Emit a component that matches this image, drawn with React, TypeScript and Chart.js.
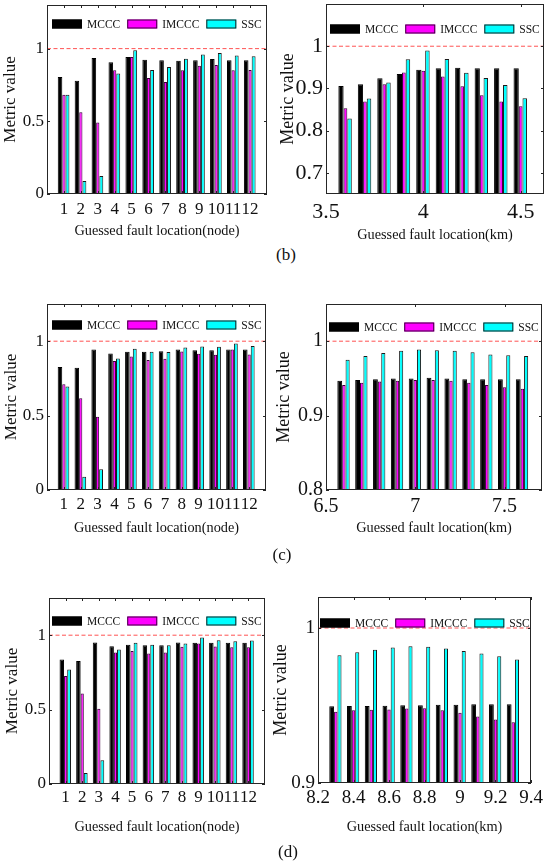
import React, { useEffect, useRef } from 'react';
import { Chart, registerables } from 'chart.js';

Chart.register(...registerables);

// ---------------- data ----------------
const seriesNames = ['MCCC', 'IMCCC', 'SSC'];
const referenceValue = 1;

const nodeLocations = [1, 2, 3, 4, 5, 6, 7, 8, 9, 10, 11, 12];
const nodeTicks = [1, 2, 3, 4, 5, 6, 7, 8, 9, 10, 11, 12];
const nodeYTicks = [0, 0.5, 1];

// (b)
const bNodeMCCC = [0.805, 0.779, 0.936, 0.906, 0.943, 0.924, 0.92, 0.917, 0.92, 0.929, 0.92, 0.92];
const bNodeIMCCC = [0.683, 0.563, 0.492, 0.851, 0.943, 0.798, 0.77, 0.851, 0.883, 0.887, 0.851, 0.853];
const bNodeSSC = [0.683, 0.09, 0.124, 0.828, 0.989, 0.853, 0.874, 0.931, 0.959, 0.97, 0.952, 0.947];

const bKm = [3.6, 3.7, 3.8, 3.9, 4.0, 4.1, 4.2, 4.3, 4.4, 4.5];
const bKmTicks = [3.5, 4, 4.5];
const bKmYTicks = [0.7, 0.8, 0.9, 1];
const bKmMCCC = [0.906, 0.91, 0.924, 0.934, 0.944, 0.948, 0.949, 0.948, 0.948, 0.948];
const bKmIMCCC = [0.853, 0.869, 0.91, 0.938, 0.942, 0.928, 0.905, 0.884, 0.869, 0.858];
const bKmSSC = [0.829, 0.876, 0.914, 0.969, 0.99, 0.97, 0.937, 0.925, 0.908, 0.877];

// (c)
const cNodeMCCC = [0.827, 0.822, 0.944, 0.918, 0.929, 0.929, 0.933, 0.944, 0.94, 0.94, 0.944, 0.944];
const cNodeIMCCC = [0.711, 0.616, 0.493, 0.867, 0.898, 0.873, 0.882, 0.931, 0.916, 0.909, 0.944, 0.911];
const cNodeSSC = [0.696, 0.089, 0.14, 0.884, 0.949, 0.929, 0.927, 0.958, 0.964, 0.962, 0.984, 0.967];

const cKm = [6.6, 6.7, 6.8, 6.9, 7.0, 7.1, 7.2, 7.3, 7.4, 7.5, 7.6];
const cKmTicks = [6.5, 7, 7.5];
const cKmYTicks = [0.8, 0.9, 1];
const cKmMCCC = [0.947, 0.948, 0.949, 0.95, 0.95, 0.951, 0.95, 0.949, 0.949, 0.949, 0.949];
const cKmIMCCC = [0.941, 0.944, 0.946, 0.947, 0.948, 0.948, 0.947, 0.944, 0.941, 0.938, 0.936];
const cKmSSC = [0.975, 0.98, 0.984, 0.987, 0.989, 0.988, 0.987, 0.985, 0.982, 0.981, 0.98];

// (d)
const dNodeMCCC = [0.837, 0.826, 0.951, 0.926, 0.935, 0.933, 0.933, 0.951, 0.949, 0.949, 0.949, 0.949];
const dNodeIMCCC = [0.725, 0.608, 0.506, 0.884, 0.893, 0.877, 0.884, 0.922, 0.944, 0.924, 0.919, 0.919];
const dNodeSSC = [0.77, 0.074, 0.159, 0.904, 0.949, 0.935, 0.933, 0.944, 0.984, 0.966, 0.96, 0.964];

const dKm = [8.3, 8.4, 8.5, 8.6, 8.7, 8.8, 8.9, 9.0, 9.1, 9.2, 9.3];
const dKmTicks = [8.2, 8.4, 8.6, 8.8, 9, 9.2, 9.4];
const dKmYTicks = [0.9, 1];
const dKmMCCC = [0.9495, 0.9497, 0.9497, 0.9499, 0.9501, 0.9501, 0.9505, 0.9505, 0.9508, 0.9508, 0.9508];
const dKmIMCCC = [0.946, 0.9469, 0.9473, 0.9475, 0.948, 0.9482, 0.9469, 0.9453, 0.9429, 0.941, 0.9392];
const dKmSSC = [0.9824, 0.9844, 0.9859, 0.9874, 0.9883, 0.9879, 0.9868, 0.9852, 0.9835, 0.9818, 0.9796];

const xTitleNode = 'Guessed fault location(node)';
const xTitleKm = 'Guessed fault location(km)';
const yTitle = 'Metric value';

// ---------------- styles ----------------
const FONT = "'Liberation Serif', 'Times New Roman', serif";
const TEXT = '#111111';
const AXIS = '#262626';
const seriesFill = ['#000000', '#ff00ff', '#00ffff'];
const seriesBorder = ['#000000', '#3a003a', '#1a1a1a'];
// per-series group geometry (fractions of the category width)
const seriesCatPct = [0.69, 0.57, 0.63];
const seriesBarPct = [1.1739, 1.0, 1.0952];

const framePlugin: any = {
  id: 'matlabFrame',
  afterDatasetsDraw(chart: any, _args: any, opts: any) {
    const { ctx, chartArea: a, scales } = chart;
    const len = 3;
    ctx.save();
    ctx.strokeStyle = opts.color || AXIS;
    ctx.lineWidth = 1;
    ctx.beginPath();
    for (const t of scales.x.ticks) {
      const px = Math.round(scales.x.getPixelForValue(t.value)) + 0.5;
      ctx.moveTo(px, a.bottom);
      ctx.lineTo(px, a.bottom - len);
      ctx.moveTo(px, a.top);
      ctx.lineTo(px, a.top + len);
    }
    for (const t of scales.y.ticks) {
      const py = Math.round(scales.y.getPixelForValue(t.value)) + 0.5;
      ctx.moveTo(a.left, py);
      ctx.lineTo(a.left + len, py);
      ctx.moveTo(a.right, py);
      ctx.lineTo(a.right - len, py);
    }
    ctx.stroke();
    ctx.strokeRect(
      Math.round(a.left) + 0.5,
      Math.round(a.top) + 0.5,
      Math.round(a.right - a.left) - 1,
      Math.round(a.bottom - a.top) - 1
    );
    ctx.restore();
  },
};

const legendPlugin: any = {
  id: 'matlabLegend',
  afterDatasetsDraw(chart: any, _args: any, opts: any) {
    const { ctx, chartArea: a } = chart;
    const items = chart.data.datasets.filter((d: any) => d.inLegend !== false);
    const boxW = 30;
    const boxH = 9;
    const gapText = 5;
    const gapItem = 7;
    ctx.save();
    ctx.font = `${opts.fontSize}px ${FONT}`;
    ctx.textBaseline = 'middle';
    ctx.textAlign = 'left';
    const widths = items.map((d: any) => ctx.measureText(d.label).width);
    const total =
      widths.reduce((s: number, w: number) => s + boxW + gapText + w, 0) + gapItem * (items.length - 1);
    let x = Math.round((a.left + a.right) / 2 - total / 2);
    const y = Math.round(a.top + opts.offsetY);
    items.forEach((d: any, i: number) => {
      ctx.fillStyle = d.backgroundColor;
      ctx.fillRect(x, y - boxH / 2, boxW, boxH);
      ctx.strokeStyle = d.borderColor;
      ctx.lineWidth = 1;
      ctx.strokeRect(x + 0.5, y - boxH / 2 + 0.5, boxW - 1, boxH - 1);
      x += boxW + gapText;
      ctx.fillStyle = TEXT;
      ctx.fillText(d.label, x, y + 0.5);
      x += widths[i] + gapItem;
    });
    ctx.restore();
  },
};

type PanelCfg = {
  x: number[];
  s1: number[];
  s2: number[];
  s3: number[];
  xMin: number;
  xMax: number;
  xTicks: number[];
  yMin: number;
  yMax: number;
  yTicks: number[];
  xTitle: string;
  // geometry of the axes box on the page
  L: number;
  T: number;
  R: number;
  B: number;
  yTitleDist: number;
  xTitleDist: number;
  xTickDist: number;
  tickFont: number;
  yTitleFont: number;
  legendY: number;
  rightPad: number;
};

const X_TITLE_FONT = 14.3;
const TOP_PAD = 4;

function Panel({ cfg }: { cfg: PanelCfg }) {
  const ref = useRef<HTMLCanvasElement | null>(null);
  const yAxisW = Math.round(cfg.yTitleDist + (cfg.yTitleFont * 1.2) / 2);
  const xAxisH = Math.round(cfg.xTitleDist + (X_TITLE_FONT * 1.2) / 2);
  const left = cfg.L - yAxisW;
  const top = cfg.T - TOP_PAD;
  const width = yAxisW + (cfg.R - cfg.L) + cfg.rightPad;
  const height = TOP_PAD + (cfg.B - cfg.T) + xAxisH;

  useEffect(() => {
    if (!ref.current) return;
    const series = [cfg.s1, cfg.s2, cfg.s3];
    const datasets: any[] = series.map((s, i) => ({
      label: seriesNames[i],
      data: s,
      backgroundColor: seriesFill[i],
      borderColor: seriesBorder[i],
      borderWidth: 1,
      categoryPercentage: seriesCatPct[i],
      barPercentage: seriesBarPct[i],
    }));
    datasets.push({
      type: 'line',
      label: 'reference',
      inLegend: false,
      data: [
        { x: cfg.xMin, y: referenceValue },
        { x: cfg.xMax, y: referenceValue },
      ],
      borderColor: '#ff5252',
      borderWidth: 1,
      borderDash: [4, 2.5],
      pointRadius: 0,
      fill: false,
      order: -1,
    });
    const chart = new Chart(ref.current, {
      type: 'bar',
      data: { labels: cfg.x, datasets },
      plugins: [framePlugin, legendPlugin],
      options: {
        responsive: false,
        maintainAspectRatio: false,
        animation: false,
        events: [],
        layout: { padding: { top: TOP_PAD, right: cfg.rightPad, left: 0, bottom: 0 } },
        plugins: {
          legend: { display: false },
          tooltip: { enabled: false },
          title: { display: false },
          matlabFrame: { color: AXIS },
          matlabLegend: { fontSize: 11.5, offsetY: cfg.legendY },
        } as any,
        scales: {
          x: {
            type: 'linear',
            min: cfg.xMin,
            max: cfg.xMax,
            offset: false,
            grid: { display: false, drawTicks: false },
            border: { display: false },
            afterBuildTicks: (s: any) => {
              s.ticks = cfg.xTicks.map((v) => ({ value: v }));
            },
            afterFit: (s: any) => {
              s.height = xAxisH;
              s.paddingLeft = 0;
              s.paddingRight = 0;
            },
            ticks: {
              autoSkip: false,
              maxRotation: 0,
              minRotation: 0,
              padding: cfg.xTickDist - cfg.tickFont * 0.6,
              color: TEXT,
              font: { family: FONT, size: cfg.tickFont },
              callback: (v: any) => String(v),
            },
            title: {
              display: true,
              text: cfg.xTitle,
              color: TEXT,
              font: { family: FONT, size: X_TITLE_FONT },
              padding: 0,
            },
          },
          y: {
            type: 'linear',
            min: cfg.yMin,
            max: cfg.yMax,
            grid: { display: false, drawTicks: false },
            border: { display: false },
            afterBuildTicks: (s: any) => {
              s.ticks = cfg.yTicks.map((v) => ({ value: v }));
            },
            afterFit: (s: any) => {
              s.width = yAxisW;
              s.paddingTop = 0;
              s.paddingBottom = 0;
            },
            ticks: {
              autoSkip: false,
              padding: 3,
              color: TEXT,
              font: { family: FONT, size: cfg.tickFont },
              callback: (v: any) => String(v),
            },
            title: {
              display: true,
              text: yTitle,
              color: TEXT,
              font: { family: FONT, size: cfg.yTitleFont },
              padding: 0,
            },
          },
        } as any,
      },
    } as any);
    return () => chart.destroy();
  }, []);

  return (
    <canvas
      ref={ref}
      width={width}
      height={height}
      style={{ position: 'absolute', left, top, width, height }}
    />
  );
}

const panels: PanelCfg[] = [
  {
    x: nodeLocations, s1: bNodeMCCC, s2: bNodeIMCCC, s3: bNodeSSC,
    xMin: 0, xMax: 13, xTicks: nodeTicks, yMin: 0, yMax: 1.3, yTicks: nodeYTicks, xTitle: xTitleNode,
    L: 47, T: 5, R: 267, B: 194, yTitleDist: 37, xTitleDist: 37, xTickDist: 16, tickFont: 17, yTitleFont: 17,
    legendY: 18.7, rightPad: 8,
  },
  {
    x: bKm, s1: bKmMCCC, s2: bKmIMCCC, s3: bKmSSC,
    xMin: 3.5, xMax: 4.62, xTicks: bKmTicks, yMin: 0.65, yMax: 1.1, yTicks: bKmYTicks, xTitle: xTitleKm,
    L: 326, T: 4, R: 544, B: 194, yTitleDist: 38.5, xTitleDist: 41, xTickDist: 18, tickFont: 22, yTitleFont: 18,
    legendY: 24.7, rightPad: 6,
  },
  {
    x: nodeLocations, s1: cNodeMCCC, s2: cNodeIMCCC, s3: cNodeSSC,
    xMin: 0, xMax: 13, xTicks: nodeTicks, yMin: 0, yMax: 1.25, yTicks: nodeYTicks, xTitle: xTitleNode,
    L: 47, T: 304, R: 266, B: 490, yTitleDist: 36, xTitleDist: 38, xTickDist: 15, tickFont: 17, yTitleFont: 17,
    legendY: 21, rightPad: 8,
  },
  {
    x: cKm, s1: cKmMCCC, s2: cKmIMCCC, s3: cKmSSC,
    xMin: 6.5, xMax: 7.71, xTicks: cKmTicks, yMin: 0.8, yMax: 1.05, yTicks: cKmYTicks, xTitle: xTitleKm,
    L: 326, T: 304, R: 542, B: 490, yTitleDist: 42, xTitleDist: 38, xTickDist: 17, tickFont: 20, yTitleFont: 18,
    legendY: 22.7, rightPad: 8,
  },
  {
    x: nodeLocations, s1: dNodeMCCC, s2: dNodeIMCCC, s3: dNodeSSC,
    xMin: 0, xMax: 13, xTicks: nodeTicks, yMin: 0, yMax: 1.25, yTicks: nodeYTicks, xTitle: xTitleNode,
    L: 49, T: 598, R: 265, B: 784, yTitleDist: 37, xTitleDist: 43, xTickDist: 14, tickFont: 17, yTitleFont: 17,
    legendY: 23, rightPad: 8,
  },
  {
    x: dKm, s1: dKmMCCC, s2: dKmIMCCC, s3: dKmSSC,
    xMin: 8.2, xMax: 9.4, xTicks: dKmTicks, yMin: 0.9, yMax: 1.02, yTicks: dKmYTicks, xTitle: xTitleKm,
    L: 318, T: 597, R: 531, B: 783, yTitleDist: 37, xTitleDist: 44, xTickDist: 15, tickFont: 19, yTitleFont: 18,
    legendY: 26, rightPad: 19,
  },
];

const captions = [
  { text: '(b)', cx: 286, cy: 254 },
  { text: '(c)', cx: 282, cy: 554 },
  { text: '(d)', cx: 288, cy: 851 },
];

export default function App() {
  return (
    <div
      style={{
        position: 'absolute',
        left: 0,
        top: 0,
        width: 550,
        height: 862,
        background: '#ffffff',
        overflow: 'hidden',
      }}
    >
      {panels.map((p, i) => (
        <Panel key={i} cfg={p} />
      ))}
      {captions.map((c) => (
        <div
          key={c.text}
          style={{
            position: 'absolute',
            left: c.cx,
            top: c.cy,
            transform: 'translate(-50%, -50%)',
            fontFamily: FONT,
            fontSize: 17,
            lineHeight: 1,
            color: TEXT,
            whiteSpace: 'nowrap',
          }}
        >
          {c.text}
        </div>
      ))}
    </div>
  );
}
